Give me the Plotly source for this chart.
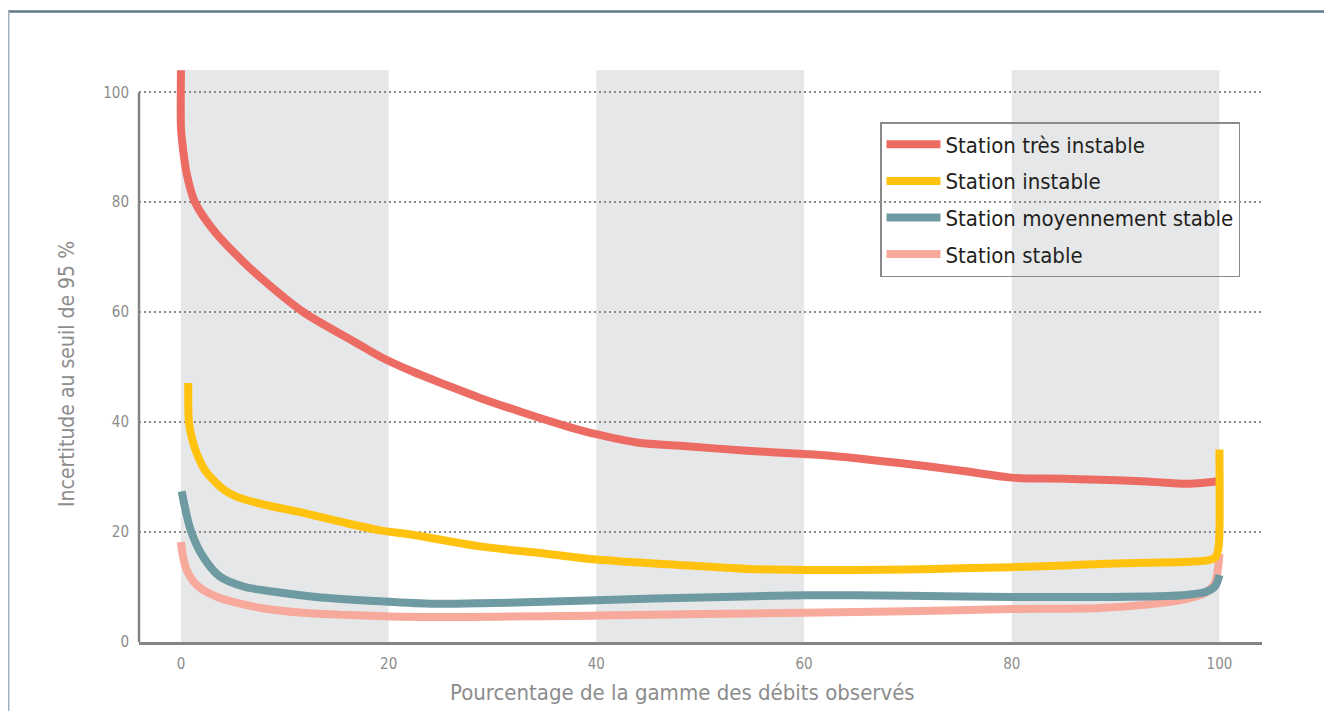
import plotly.graph_objects as go

names = ["Station très instable", "Station instable", "Station moyennement stable", "Station stable"]
colors = ["#EC6B62", "#FFC20E", "#6E9BA1", "#F7A99C"]
x_title = "Pourcentage de la gamme des débits observés"
y_title = "Incertitude au seuil de 95 %"

x_tres = [0, 0, 0.1, 0.55, 1.35, 3.1, 5.5, 7.6, 11.8, 16.9, 19.2, 22.3, 25.5, 28.8, 33, 37.4, 40, 43.9, 48.7, 54.5, 60, 63, 69, 75, 80, 85, 88.5, 93, 97, 100]
y_tres = [104, 93.6, 91.3, 85.2, 80, 75, 70.1, 66.4, 60, 54.4, 51.9, 49.2, 46.8, 44.4, 41.7, 39.1, 37.8, 36.3, 35.6, 34.8, 34.2, 33.8, 32.6, 31.2, 29.9, 29.7, 29.5, 29.2, 28.8, 29.3]

x_inst = [0.7, 0.77, 1.0, 1.5, 2.2, 3.1, 4.2, 5.4, 8, 11.8, 16, 19.2, 22, 28.8, 35, 40, 48, 54.5, 60, 65, 70, 75, 80, 85, 88.5, 93, 97, 99, 99.6, 99.9, 100, 100]
y_inst = [47.1, 40, 37.5, 34.4, 31.6, 29.5, 27.6, 26.4, 25, 23.5, 21.6, 20.3, 19.6, 17.4, 16.1, 15, 14.0, 13.3, 13.1, 13.1, 13.2, 13.4, 13.6, 13.9, 14.2, 14.4, 14.6, 14.9, 15.4, 17, 20, 35]

x_moy = [0.07, 0.5, 1.0, 2.1, 3.75, 6, 9.5, 13, 18.2, 24, 30, 35, 40, 50, 60, 65, 70, 80, 88.5, 94, 97, 98.8, 99.6, 100]
y_moy = [27.4, 23.5, 20, 15.6, 11.9, 10.1, 9.0, 8.2, 7.5, 6.96, 7.1, 7.3, 7.6, 8.1, 8.5, 8.5, 8.4, 8.2, 8.2, 8.3, 8.6, 9.2, 10.2, 12.2]

x_stab = [0, 0.2, 0.55, 1.2, 2.1, 3.5, 5.4, 8, 11.8, 16, 21.4, 30.7, 35, 40, 50, 60, 70, 80, 88.5, 93, 96.5, 98.5, 99.5, 100]
y_stab = [18.2, 15.5, 13.1, 11.0, 9.5, 8.2, 7.1, 6.1, 5.3, 4.9, 4.6, 4.6, 4.7, 4.8, 5.1, 5.3, 5.6, 6.0, 6.2, 6.8, 7.7, 8.8, 10.5, 16]

x_ticks = [0, 20, 40, 60, 80, 100]
y_ticks = [0, 20, 40, 60, 80, 100]
bands = [(0, 20), (40, 60), (80, 100)]

series = [(x_tres, y_tres), (x_inst, y_inst), (x_moy, y_moy), (x_stab, y_stab)]

fig = go.Figure()
order = [3, 2, 0, 1]
for i in order:
    xs, ys = series[i]
    fig.add_trace(go.Scatter(
        x=xs, y=ys, mode="lines", name=names[i],
        line=dict(color=colors[i], width=8, shape="spline", smoothing=0.9),
        legendgroup=names[i], legendrank=i + 1,
    ))

W, H = 1324, 703  # page body has an 8px margin
L, R, T, B = 131, 1254, 62, 634

def px(xp):
    return (xp - L) / (R - L)

def py(yp):
    return (B - yp) / (B - T)

shapes = []
for a, b in bands:
    shapes.append(dict(type="rect", xref="x", yref="paper", x0=a, x1=b, y0=0, y1=1,
                       fillcolor="#E6E7E9", line=dict(width=0), layer="below"))
shapes.append(dict(type="line", xref="paper", yref="y", x0=0, x1=0, y0=0, y1=100,
                   line=dict(color="#858585", width=2.5)))
shapes.append(dict(type="line", xref="paper", yref="paper", x0=px(0), x1=px(1324), y0=py(3.5), y1=py(3.5),
                   line=dict(color="#5F7888", width=2.5)))
shapes.append(dict(type="line", xref="paper", yref="paper", x0=px(0.7), x1=px(0.7), y0=py(3), y1=py(705),
                   line=dict(color="#9FB0BE", width=1.5)))
shapes.append(dict(type="line", xref="paper", yref="paper", x0=px(1320), x1=px(1320), y0=py(3), y1=py(705),
                   line=dict(color="#6F8797", width=1.5)))

font_family = "DejaVu Sans Condensed, sans-serif"
title_font = dict(family=font_family, size=22, color="#8C8C8C")

annotations = [
    dict(text=x_title, xref="paper", yref="paper", x=px(674.5), y=py(684),
         xanchor="center", yanchor="middle", showarrow=False, font=title_font),
    dict(text=y_title, xref="paper", yref="paper", x=px(59), y=py(366), textangle=-90,
         xanchor="center", yanchor="middle", showarrow=False,
         font=dict(family=font_family, size=21, color="#8C8C8C")),
]

fig.update_layout(
    width=W, height=H,
    margin=dict(l=L, r=W - R, t=T, b=H - B, autoexpand=False),
    plot_bgcolor="white", paper_bgcolor="white",
    shapes=shapes,
    annotations=annotations,
    showlegend=True,
    legend=dict(
        x=px(872), y=py(114), xanchor="left", yanchor="top",
        bgcolor="rgba(0,0,0,0)", bordercolor="#8A8A8A", borderwidth=1.5,
        font=dict(family=font_family, size=22, color="#231F20"),
        tracegroupgap=5, itemwidth=54,
    ),
    xaxis=dict(
        range=[-4.04, 104.1], tickvals=x_ticks, ticktext=[str(v) for v in x_ticks],
        showgrid=False, zeroline=False, showline=True, linecolor="#858585", linewidth=2.5,
        ticks="", ticklabelstandoff=6, automargin=False,
        tickfont=dict(family=font_family, size=15, color="#8C8C8C"),
    ),
    yaxis=dict(
        range=[0, 104.05], tickvals=y_ticks, ticktext=[str(v) for v in y_ticks],
        showgrid=True, gridcolor="#8A8A8A", gridwidth=2, griddash="2px,3px",
        zeroline=False, showline=False, ticks="", ticklabelstandoff=9, automargin=False,
        tickfont=dict(family=font_family, size=15, color="#8C8C8C"),
    ),
)

fig.write_html("out.html")
